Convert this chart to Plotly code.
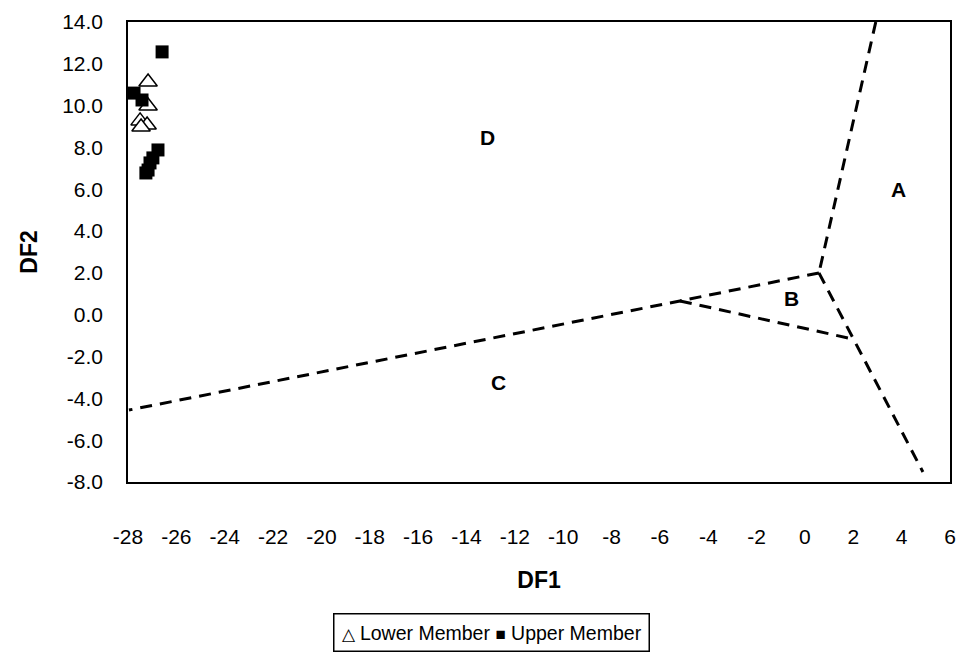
import plotly.graph_objects as go

# Data
lower_x = [-27.17, -27.17, -27.50, -27.21, -27.46]
lower_y = [11.13, 9.98, 9.27, 9.07, 8.98]
upper_x = [-26.59, -27.75, -27.42, -26.76, -26.97, -27.09, -27.17, -27.26]
upper_y = [12.57, 10.60, 10.27, 7.88, 7.50, 7.26, 6.92, 6.78]

# Field boundaries (discriminant-function diagram)
bound1_x = [2.93, 0.58]
bound1_y = [14.0, 2.0]
bound2_x = [0.58, -5.17, -27.96]
bound2_y = [2.0, 0.66, -4.56]
bound3_x = [-5.17, 1.78]
bound3_y = [0.66, -1.11]
bound4_x = [0.58, 4.88]
bound4_y = [2.0, -7.52]

field_labels = ["A", "B", "C", "D"]
field_x = [3.89, -0.54, -12.66, -13.15]
field_y = [5.97, 0.80, -3.26, 8.50]

x_ticks = list(range(-28, 7, 2))
x_ticktext = [str(v) for v in x_ticks]
y_ticks = list(range(-8, 15, 2))
y_ticktext = [f"{v:.1f}" for v in y_ticks]

legend_names = ["Lower Member", "Upper Member"]
legend_glyphs = ["\u25b3", "\u25a0"]

FONT = "Liberation Sans, Arial, sans-serif"

fig = go.Figure()

dash = "12px,8px"
for bx, by in [(bound1_x, bound1_y), (bound2_x, bound2_y), (bound3_x, bound3_y), (bound4_x, bound4_y)]:
    fig.add_trace(go.Scatter(x=bx, y=by, mode="lines", showlegend=False, hoverinfo="skip",
                             line=dict(color="black", width=3, dash=dash)))

fig.add_trace(go.Scatter(x=lower_x, y=lower_y, mode="markers", name=legend_names[0], showlegend=False,
                         marker=dict(symbol="triangle-up", size=16, color="white",
                                     line=dict(color="black", width=1.5))))
fig.add_trace(go.Scatter(x=upper_x, y=upper_y, mode="markers", name=legend_names[1], showlegend=False,
                         marker=dict(symbol="square", size=13, color="black",
                                     line=dict(color="black", width=0))))

for t, x, y in zip(field_labels, field_x, field_y):
    fig.add_annotation(x=x, y=y, text=f"<b>{t}</b>", showarrow=False,
                       font=dict(family=FONT, size=21, color="black"))

# Legend box (drawn as bordered text, as in the reference)
legend_text = f"<span style='font-size:17px'>{legend_glyphs[0]}</span> {legend_names[0]} " \
              f"<span style='font-size:17px'>{legend_glyphs[1]}</span> {legend_names[1]}"
fig.add_annotation(xref="paper", yref="paper", x=(491 - 128) / 822, y=-(632 - 482) / 460,
                   xanchor="center", yanchor="middle", text=legend_text, showarrow=False,
                   font=dict(family=FONT, size=19.5, color="black"),
                   bordercolor="black", borderwidth=1.5, borderpad=7, bgcolor="white")

axis_common = dict(showgrid=False, zeroline=False, showline=True, linecolor="black",
                   linewidth=1.5, mirror=True, ticks="", automargin=False,
                   tickfont=dict(family=FONT, size=21, color="black"))

fig.update_xaxes(range=[-28, 6], tickvals=x_ticks, ticktext=x_ticktext, ticklabelstandoff=35,
                 title=dict(text="<b>DF1</b>", font=dict(family=FONT, size=23, color="black"),
                            standoff=25), **axis_common)
fig.update_yaxes(range=[-8, 14], tickvals=y_ticks, ticktext=y_ticktext, ticklabelstandoff=19,
                 title=dict(text="<b>DF2</b>", font=dict(family=FONT, size=23, color="black"),
                            standoff=18), **axis_common)

fig.update_layout(
    width=964, height=655,
    margin=dict(l=128, r=14, t=22, b=173),
    paper_bgcolor="white", plot_bgcolor="white",
    showlegend=False,
)

fig.write_html("out.html", config={"displayModeBar": False},
               post_script="document.body.style.margin='0';")
